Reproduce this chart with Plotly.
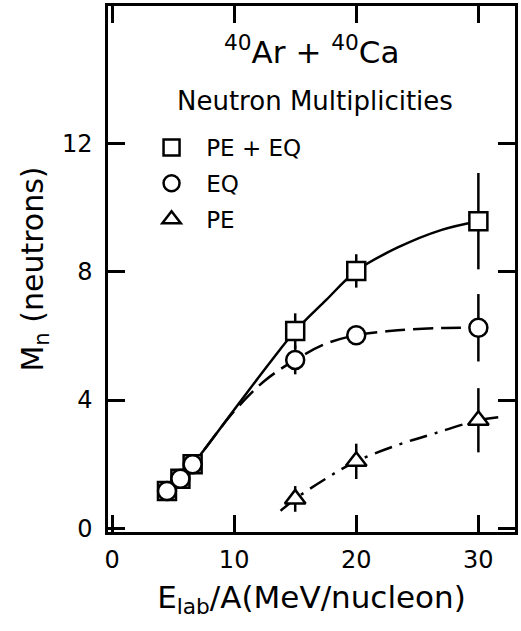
import plotly.graph_objects as go

# ---- data ----
energy_pe_eq = [4.5, 5.6, 6.6, 15, 20, 30]
mn_pe_eq = [1.17, 1.55, 2.0, 6.15, 8.02, 9.57]
err_pe_eq = [0, 0, 0, 0.55, 0.52, 1.5]

energy_eq = [4.5, 5.6, 6.6, 15, 20, 30]
mn_eq = [1.17, 1.55, 2.0, 5.25, 6.02, 6.25]
err_eq = [0, 0, 0, 0.45, 0, 1.05]

energy_pe = [15, 20, 30]
mn_pe = [0.92, 2.09, 3.37]
err_pe = [0.4, 0.55, 1.0]

curve_pe_eq_x = [4.5, 6.6, 10, 13, 15, 17.5, 20, 23.4, 27, 30]
curve_pe_eq_y = [1.17, 2.0, 3.7, 5.2, 6.15, 7.1, 8.02, 8.75, 9.3, 9.57]

curve_eq_x = [4.5, 6.6, 10, 12.5, 15, 17.5, 20, 23.4, 27, 30]
curve_eq_y = [1.17, 2.0, 3.65, 4.6, 5.25, 5.75, 6.02, 6.17, 6.24, 6.25]

curve_pe_x = [13.8, 15, 17.5, 20, 23.4, 26.5, 30, 32]
curve_pe_y = [0.55, 0.92, 1.55, 2.09, 2.6, 2.97, 3.37, 3.48]

x_ticks = [0, 10, 20, 30]
y_ticks = [0, 4, 8, 12]

legend_labels = ["PE + EQ", "EQ", "PE"]

FONT = "DejaVu Sans"
BLACK = "black"
LW = 2.5

fig = go.Figure()

# curves
fig.add_trace(go.Scatter(x=curve_pe_eq_x, y=curve_pe_eq_y, mode="lines",
                         line=dict(color=BLACK, width=LW, shape="spline"),
                         showlegend=False, hoverinfo="skip"))
fig.add_trace(go.Scatter(x=curve_eq_x, y=curve_eq_y, mode="lines",
                         line=dict(color=BLACK, width=LW, shape="spline", dash="20px,8px"),
                         showlegend=False, hoverinfo="skip"))
fig.add_trace(go.Scatter(x=curve_pe_x, y=curve_pe_y, mode="lines",
                         line=dict(color=BLACK, width=LW, shape="spline", dash="18px,8px,3px,8px"),
                         showlegend=False, hoverinfo="skip"))

# data points
def pts(x, y, e, sym, name, grp):
    return go.Scatter(
        x=x, y=y, mode="markers", name="\u00a0\u00a0" + name, legendgroup=grp,
        marker=dict(symbol=sym, size=18, color="white",
                    line=dict(color=BLACK, width=LW)),
        error_y=dict(type="data", array=e, visible=True, color=BLACK,
                     thickness=LW, width=0),
    )

fig.add_trace(pts(energy_pe_eq, mn_pe_eq, err_pe_eq, "square", legend_labels[0], "a"))
fig.add_trace(pts(energy_eq, mn_eq, err_eq, "circle", legend_labels[1], "b"))
fig.add_trace(pts(energy_pe, mn_pe, err_pe, "triangle-up", legend_labels[2], "c"))

axis_common = dict(
    showline=True, linecolor=BLACK, linewidth=LW, mirror="ticks",
    ticks="inside", ticklen=17, tickwidth=LW, tickcolor=BLACK,
    showgrid=False, zeroline=False,
    tickfont=dict(family=FONT, size=24, color=BLACK),
)

fig.update_layout(
    width=521, height=631,
    margin=dict(l=108, r=3, t=5, b=99),
    paper_bgcolor="white", plot_bgcolor="white",
    font=dict(family=FONT, color=BLACK),
    xaxis=dict(range=[-0.33, 33.0], tickvals=x_ticks, ticklabelstandoff=4,
               title=dict(text="E<sub>lab</sub>/A(MeV/nucleon)",
                          font=dict(family=FONT, size=31, color=BLACK), standoff=14),
               **axis_common),
    yaxis=dict(range=[-0.11, 16.27], tickvals=y_ticks, ticklabelstandoff=8,
               title=dict(text="M<sub>n</sub> (neutrons)",
                          font=dict(family=FONT, size=30, color=BLACK), standoff=10),
               **axis_common),
    legend=dict(x=0.107, y=0.772, xanchor="left", yanchor="top",
                bgcolor="rgba(0,0,0,0)", tracegroupgap=3,
                font=dict(family=FONT, size=23, color=BLACK)),
    annotations=[
        dict(x=16.4, y=14.9, xref="x", yref="y", showarrow=False,
             text="<sup>40</sup>Ar + <sup>40</sup>Ca",
             font=dict(family=FONT, size=31, color=BLACK)),
        dict(x=16.6, y=13.3, xref="x", yref="y", showarrow=False,
             text="Neutron Multiplicities",
             font=dict(family=FONT, size=26, color=BLACK)),
    ],
)

fig.write_html("out.html")
